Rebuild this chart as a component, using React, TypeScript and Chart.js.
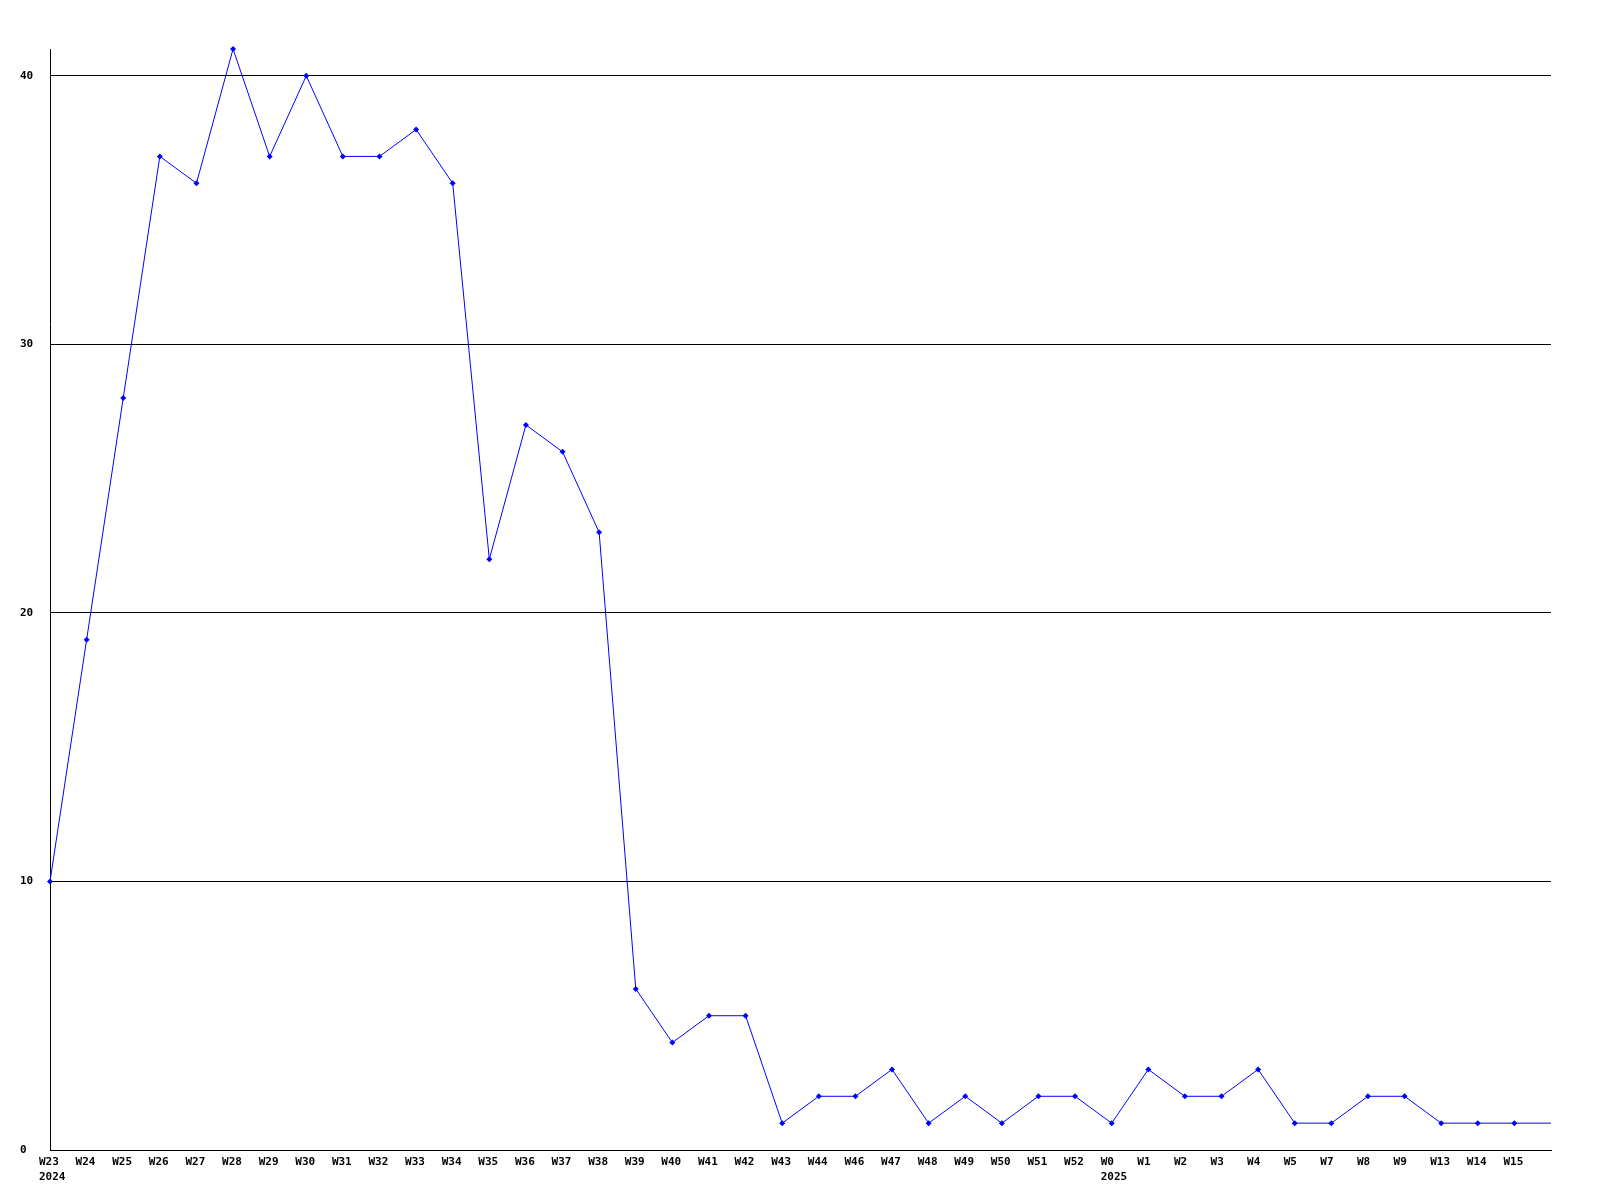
import React, { useEffect, useRef } from "react";
import { Chart, registerables } from "chart.js";

Chart.register(...registerables);

const weekLabels = [
  "W23", "W24", "W25", "W26", "W27", "W28", "W29", "W30", "W31", "W32", "W33",
  "W34", "W35", "W36", "W37", "W38", "W39", "W40", "W41", "W42", "W43", "W44",
  "W46", "W47", "W48", "W49", "W50", "W51", "W52", "W0", "W1", "W2", "W3", "W4",
  "W5", "W7", "W8", "W9", "W13", "W14", "W15", "",
];

const yearLabels: Record<number, string> = { 0: "2024", 29: "2025" };

const counts = [
  10, 19, 28, 37, 36, 41, 37, 40, 37, 37, 38,
  36, 22, 27, 26, 23, 6, 4, 5, 5, 1, 2,
  2, 3, 1, 2, 1, 2, 2, 1, 3, 2, 2, 3,
  1, 1, 2, 2, 1, 1, 1, 1,
];

const yTicks = [0, 10, 20, 30, 40];
const yMax = 41;

export default function App() {
  const ref = useRef<HTMLCanvasElement | null>(null);

  useEffect(() => {
    if (!ref.current) return;
    const labels = weekLabels.map((w, i) => (yearLabels[i] ? [w, yearLabels[i]] : w));
    const chart = new Chart(ref.current, {
      type: "line",
      data: {
        labels,
        datasets: [
          {
            data: counts,
            borderColor: "#0000ff",
            backgroundColor: "#0000ff",
            borderWidth: 1,
            pointStyle: "rectRot",
            pointRadius: counts.map((_, i) => (i === counts.length - 1 ? 0 : 3)),
            pointBorderWidth: 0,
            tension: 0,
            fill: false,
            clip: false,
          },
        ],
      },
      options: {
        animation: false,
        responsive: false,
        maintainAspectRatio: false,
        layout: { padding: { left: 20, right: 49, top: 49, bottom: 0 } },
        plugins: { legend: { display: false }, tooltip: { enabled: false } },
        scales: {
          x: {
            type: "category",
            offset: false,
            grid: { display: false, drawTicks: false },
            border: { display: true, color: "#000000", width: 1 },
            ticks: {
              autoSkip: false,
              maxRotation: 0,
              minRotation: 0,
              align: "start",
              labelOffset: -11,
              padding: 5,
              color: "#000000",
              font: { family: "DejaVu Sans Mono", size: 11, weight: "bold", lineHeight: 1.35 },
            },
            afterFit: (s: any) => {
              s.height = 50;
            },
          },
          y: {
            type: "linear",
            min: 0,
            max: yMax,
            afterBuildTicks: (s: any) => {
              s.ticks = yTicks.map((v) => ({ value: v }));
            },
            grid: { display: true, color: "#000000", lineWidth: 1, drawTicks: false },
            border: { display: true, color: "#000000", width: 1 },
            ticks: {
              crossAlign: "far",
              padding: 0,
              color: "#000000",
              font: { family: "DejaVu Sans Mono", size: 11, weight: "bold" },
            },
            afterFit: (s: any) => {
              s.width = 30;
            },
          },
        },
      },
    });
    return () => chart.destroy();
  }, []);

  return (
    <div style={{ position: "fixed", left: 0, top: 0, width: 1600, height: 1200, background: "#ffffff" }}>
      <canvas ref={ref} width={1600} height={1200} style={{ width: 1600, height: 1200 }} />
    </div>
  );
}
